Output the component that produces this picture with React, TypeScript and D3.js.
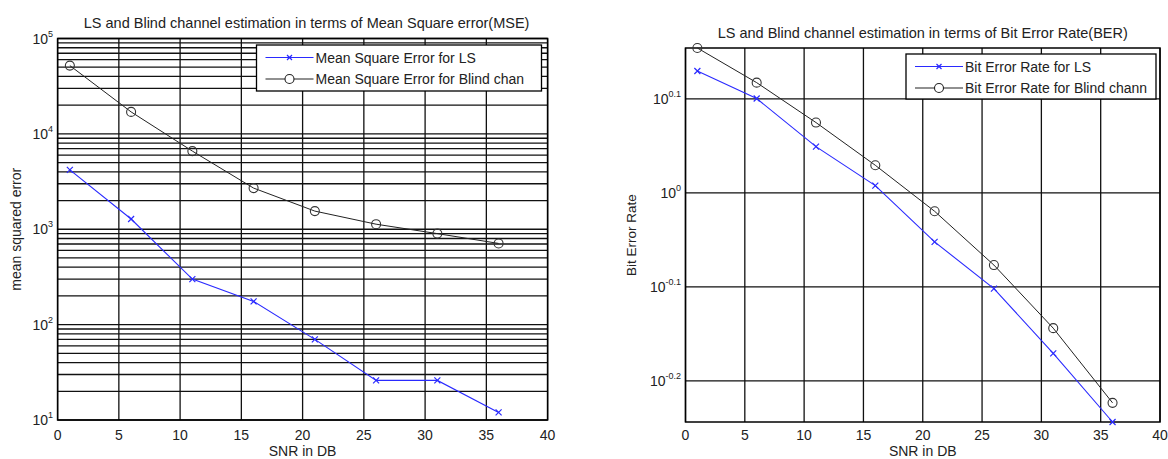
import React from "react";
import * as d3 from "d3";

// SNR points (dB)
const snr = [1, 6, 11, 16, 21, 26, 31, 36];

// left: mean square error
const mseLS = [4200, 1280, 300, 175, 70, 26, 26, 12];
const mseBlind = [52000, 17000, 6600, 2700, 1550, 1130, 900, 710];

// right: bit error rate
const berLS = [1.348, 1.26, 1.12, 1.018, 0.887, 0.791, 0.675, 0.5706];
const berBlind = [1.426, 1.31, 1.188, 1.07, 0.956, 0.838, 0.718, 0.598];

const xTicks = [0, 5, 10, 15, 20, 25, 30, 35, 40];
const mseExp = [1, 2, 3, 4, 5];
const berExp = ["0.1", "0", "-0.1", "-0.2"];

const FONT = "'Liberation Sans', Arial, sans-serif";
const TXT = "#222";
const BLUE = "#2a2aff";
const GRIDC = "#111";

function Pow({ x, y, e }: any) {
  return (
    <text x={x} y={y} textAnchor="end" fontSize={14} fill={TXT} fontFamily={FONT}>
      10<tspan fontSize={9} dy={-7}>{e}</tspan>
    </text>
  );
}

function Markers({ pts, kind, color }: any) {
  return (
    <g>
      {pts.map((p: any, i: number) =>
        kind === "x" ? (
          <path key={i} d={`M${p[0] - 3},${p[1] - 3}L${p[0] + 3},${p[1] + 3}M${p[0] - 3},${p[1] + 3}L${p[0] + 3},${p[1] - 3}`} stroke={color} strokeWidth={1.2} />
        ) : (
          <circle key={i} cx={p[0]} cy={p[1]} r={4.5} fill="none" stroke={color} strokeWidth={1.1} />
        )
      )}
    </g>
  );
}

function Legend({ x, y, w, h, items }: any) {
  return (
    <g>
      <rect x={x} y={y} width={w} height={h} fill="#fff" stroke="#000" strokeWidth={1.3} />
      {items.map((it: any, i: number) => {
        const ly = y + 12.5 + i * 21.5;
        const mx = x + 33;
        return (
          <g key={i}>
            <line x1={x + 9} x2={x + 57} y1={ly} y2={ly} stroke={it.color} strokeWidth={1.2} />
            {it.kind === "x" ? (
              <path d={`M${mx - 2.5},${ly - 2.5}L${mx + 2.5},${ly + 2.5}M${mx - 2.5},${ly + 2.5}L${mx + 2.5},${ly - 2.5}`} stroke={it.color} strokeWidth={1.2} />
            ) : (
              <circle cx={mx} cy={ly} r={4.5} fill="#fff" stroke={it.color} strokeWidth={1.1} />
            )}
            <text x={x + 59} y={ly + 5} fontSize={14} fill={TXT} fontFamily={FONT}>{it.label}</text>
          </g>
        );
      })}
    </g>
  );
}

function MsePlot() {
  const x = d3.scaleLinear().domain([0, 40]).range([57.6, 547.6]);
  const y = d3.scaleLog().domain([10, 1e5]).range([420, 38.5]);
  const minor: number[] = [];
  mseExp.slice(0, -1).forEach((e) => {
    for (let k = 2; k <= 9; k++) minor.push(k * Math.pow(10, e));
  });
  const line = d3.line<number>().x((_, i) => x(snr[i])).y((d) => y(d));
  const [x0, x1] = x.range();
  const [yb, yt] = y.range();
  return (
    <g>
      <text x={(x0 + x1) / 2 + 4} y={27.5} textAnchor="middle" fontSize={14.5} fill={TXT} fontFamily={FONT}>
        LS and Blind channel estimation in terms of Mean Square error(MSE)
      </text>
      {minor.map((v) => (
        <line key={"m" + v} x1={x0} x2={x1} y1={y(v)} y2={y(v)} stroke={GRIDC} strokeWidth={1.3} />
      ))}
      {mseExp.map((e) => (
        <line key={"M" + e} x1={x0} x2={x1} y1={y(Math.pow(10, e))} y2={y(Math.pow(10, e))} stroke={GRIDC} strokeWidth={1.3} />
      ))}
      {xTicks.map((t) => (
        <line key={"v" + t} x1={x(t)} x2={x(t)} y1={yt} y2={yb} stroke={GRIDC} strokeWidth={1.3} />
      ))}
      <rect x={x0} y={yt} width={x1 - x0} height={yb - yt} fill="none" stroke="#000" strokeWidth={1.5} />
      <path d={line(mseBlind) || ""} fill="none" stroke="#222" strokeWidth={1} />
      <path d={line(mseLS) || ""} fill="none" stroke={BLUE} strokeWidth={1.1} />
      <Markers pts={mseBlind.map((d, i) => [x(snr[i]), y(d)])} kind="o" color="#333" />
      <Markers pts={mseLS.map((d, i) => [x(snr[i]), y(d)])} kind="x" color={BLUE} />
      {mseExp.map((e) => (
        <Pow key={"l" + e} x={53} y={y(Math.pow(10, e)) + 5} e={e} />
      ))}
      {xTicks.map((t) => (
        <text key={"xt" + t} x={x(t)} y={439.5} textAnchor="middle" fontSize={14} fill={TXT} fontFamily={FONT}>{t}</text>
      ))}
      <text x={(x0 + x1) / 2} y={456} textAnchor="middle" fontSize={14} fill={TXT} fontFamily={FONT}>SNR in DB</text>
      <text transform={`translate(21,${(yt + yb) / 2}) rotate(-90)`} textAnchor="middle" fontSize={14} fill={TXT} fontFamily={FONT}>
        mean squared error
      </text>
      <Legend x={256.5} y={45} w={285} h={46} items={[
        { label: "Mean Square Error for LS", color: BLUE, kind: "x" },
        { label: "Mean Square Error for Blind chan", color: "#222", kind: "o" },
      ]} />
    </g>
  );
}

function BerPlot() {
  const x = d3.scaleLinear().domain([0, 40]).range([685.5, 1160]);
  const ext = d3.extent(berLS.concat(berBlind)) as [number, number];
  const y = d3.scaleLog().domain(ext).range([422, 48]);
  const line = d3.line<number>().x((_, i) => x(snr[i])).y((d) => y(d));
  const [x0, x1] = x.range();
  const [yb, yt] = y.range();
  return (
    <g>
      <text x={(x0 + x1) / 2} y={37.5} textAnchor="middle" fontSize={14.5} fill={TXT} fontFamily={FONT}>
        LS and Blind channel estimation in terms of Bit Error Rate(BER)
      </text>
      {berExp.map((e) => (
        <line key={"h" + e} x1={x0} x2={x1} y1={y(Math.pow(10, +e))} y2={y(Math.pow(10, +e))} stroke={GRIDC} strokeWidth={1.3} />
      ))}
      {xTicks.map((t) => (
        <line key={"v" + t} x1={x(t)} x2={x(t)} y1={yt} y2={yb} stroke={GRIDC} strokeWidth={1.3} />
      ))}
      <rect x={x0} y={yt} width={x1 - x0} height={yb - yt} fill="none" stroke="#000" strokeWidth={1.5} />
      <path d={line(berBlind) || ""} fill="none" stroke="#222" strokeWidth={1} />
      <path d={line(berLS) || ""} fill="none" stroke={BLUE} strokeWidth={1.1} />
      <Markers pts={berBlind.map((d, i) => [x(snr[i]), y(d)])} kind="o" color="#333" />
      <Markers pts={berLS.map((d, i) => [x(snr[i]), y(d)])} kind="x" color={BLUE} />
      {berExp.map((e) => (
        <Pow key={"l" + e} x={681} y={y(Math.pow(10, +e)) + 5} e={e} />
      ))}
      {xTicks.map((t) => (
        <text key={"xt" + t} x={x(t)} y={439.5} textAnchor="middle" fontSize={14} fill={TXT} fontFamily={FONT}>{t}</text>
      ))}
      <text x={(x0 + x1) / 2} y={456} textAnchor="middle" fontSize={14} fill={TXT} fontFamily={FONT}>SNR in DB</text>
      <text transform={`translate(636,${(yt + yb) / 2}) rotate(-90)`} textAnchor="middle" fontSize={13.5} fill={TXT} fontFamily={FONT}>
        Bit Error Rate
      </text>
      <Legend x={906} y={54} w={250} h={45} items={[
        { label: "Bit Error Rate for LS", color: BLUE, kind: "x" },
        { label: "Bit Error Rate for Blind chann", color: "#222", kind: "o" },
      ]} />
    </g>
  );
}

export default function App() {
  return (
    <svg width={1168} height={459} style={{ position: "absolute", left: 0, top: 0, background: "#fff" }}>
      <MsePlot />
      <BerPlot />
    </svg>
  );
}
